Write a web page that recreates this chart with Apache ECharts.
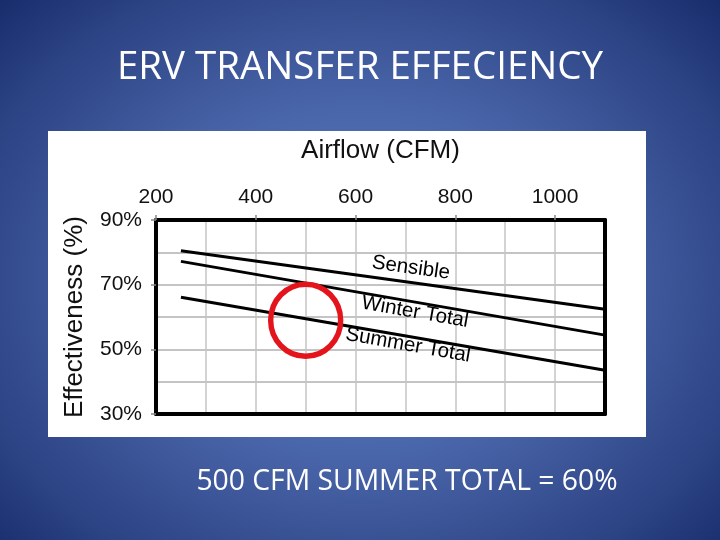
<!DOCTYPE html>
<html>
<head>
<meta charset="utf-8">
<script src="https://cdn.jsdelivr.net/npm/echarts@6/dist/echarts.min.js"></script>
<style>
  html, body { margin: 0; padding: 0; }
  body {
    width: 720px; height: 540px; overflow: hidden;
    background: radial-gradient(ellipse 75% 80% at 50% 52%, #5f7ec2 0%, #4a66aa 40%, #2c4384 75%, #0f2462 100%);
  }
  #chart { width: 720px; height: 540px; }
</style>
</head>
<body>
<div id="chart"></div>
<script>
// ---- data ----
const slideTitle = 'ERV TRANSFER EFFECIENCY';
const slideNote = '500 CFM SUMMER TOTAL = 60%';
const xName = 'Airflow (CFM)';
const yName = 'Effectiveness (%)';
const cfm = [250, 1100];
const sensible = [80.5, 62.4];
const winterTotal = [77.2, 54.4];
const summerTotal = [66.1, 43.5];
const xTickLabels = [200, 400, 600, 800, 1000];
const yTickLabels = [30, 50, 70, 90];
const lineNames = ['Sensible', 'Winter Total', 'Summer Total'];
const lineLabelCfm = [711, 719, 705];
const lineLabelPct = [75.2, 61.5, 51.3];
const highlightCfm = [500];
const highlightPct = [59];

// ---- chart ----
const chart = echarts.init(document.getElementById('chart'), null, { renderer: 'canvas' });
const FONT = '"Liberation Sans", Arial, sans-serif';
const pair = (xs, ys) => xs.map((x, i) => [x, ys[i]]);
const lineSeries = (name, vals) => ({
  name, type: 'line', xAxisIndex: 0, yAxisIndex: 0,
  data: pair(cfm, vals), symbol: 'none', silent: true,
  lineStyle: { color: '#000', width: 3 }, z: 3
});
const rotations = [-8, -10, -10];

const option = {
  backgroundColor: 'transparent',
  animation: false,
  graphic: [
    { type: 'rect', z: -10, shape: { x: 48, y: 131, width: 598, height: 306 }, style: { fill: '#ffffff' } },
    { type: 'text', x: 360, y: 68, style: { text: slideTitle, fill: '#ffffff', font: '38.5px "Open Sans", sans-serif', textAlign: 'center', textVerticalAlign: 'middle' } },
    { type: 'text', x: 407, y: 482, style: { text: slideNote, fill: '#ffffff', font: '28.3px "Open Sans", sans-serif', textAlign: 'center', textVerticalAlign: 'middle' } }
  ],
  grid: { left: 156, top: 220, width: 449, height: 194, show: false },
  xAxis: [
    {
      type: 'value', position: 'top', min: 200, max: 1100, interval: 100,
      name: xName, nameLocation: 'middle', nameGap: 56,
      nameTextStyle: { fontFamily: FONT, fontSize: 26, color: '#111' },
      axisLine: { show: true, lineStyle: { color: '#000', width: 4 } },
      axisTick: { show: true, length: 5, customValues: xTickLabels, lineStyle: { color: '#888', width: 1.5 } },
      axisLabel: { customValues: xTickLabels, formatter: v => String(v), fontFamily: FONT, fontSize: 21, color: '#111', margin: 12 },
      splitLine: { show: false }
    },
    {
      type: 'value', position: 'bottom', min: 200, max: 1100, interval: 100,
      axisLine: { show: true, lineStyle: { color: '#000', width: 4 } },
      axisTick: { show: false }, axisLabel: { show: false },
      splitLine: { show: true, showMinLine: false, showMaxLine: false, lineStyle: { color: '#c4c4c4', width: 1.5 } }
    }
  ],
  yAxis: [
    {
      type: 'value', position: 'left', min: 30, max: 90, interval: 10,
      name: yName, nameLocation: 'middle', nameGap: 68, nameRotate: 90,
      nameTextStyle: { fontFamily: FONT, fontSize: 26, color: '#111' },
      axisLine: { show: true, lineStyle: { color: '#000', width: 4 } },
      axisTick: { show: true, length: 5, customValues: yTickLabels, lineStyle: { color: '#888', width: 1.5 } },
      axisLabel: { customValues: yTickLabels, formatter: '{value}%', fontFamily: FONT, fontSize: 21, color: '#111', margin: 14 },
      splitLine: { show: false }
    },
    {
      type: 'value', position: 'right', min: 30, max: 90, interval: 10,
      axisLine: { show: true, lineStyle: { color: '#000', width: 4 } },
      axisTick: { show: false }, axisLabel: { show: false },
      splitLine: { show: true, showMinLine: false, showMaxLine: false, lineStyle: { color: '#c4c4c4', width: 2 } }
    }
  ],
  series: [
    lineSeries(lineNames[0], sensible),
    lineSeries(lineNames[1], winterTotal),
    lineSeries(lineNames[2], summerTotal),
    {
      type: 'scatter', xAxisIndex: 0, yAxisIndex: 0, silent: true, z: 4,
      symbolSize: 0,
      data: lineNames.map((n, i) => ({
        value: [lineLabelCfm[i], lineLabelPct[i]], name: n,
        label: { rotate: rotations[i] }
      })),
      label: {
        show: true, position: 'inside', formatter: '{b}',
        fontFamily: FONT, fontSize: 20.5, color: '#000',
        textBorderWidth: 0, textBorderColor: 'transparent', opacity: 1
      }
    },
    {
      type: 'scatter', xAxisIndex: 0, yAxisIndex: 0, silent: true, z: 5,
      symbol: 'circle', symbolSize: [70, 72],
      data: pair(highlightCfm, highlightPct),
      itemStyle: { color: 'rgba(0,0,0,0)', borderColor: '#e3141b', borderWidth: 5.5, opacity: 1 }
    }
  ]
};
chart.setOption(option);
</script>
</body>
</html>
